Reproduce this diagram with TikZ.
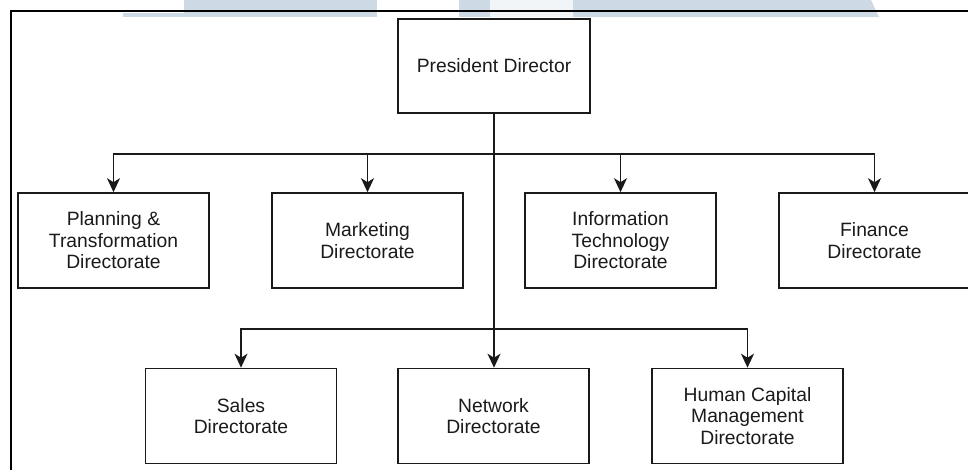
\documentclass[tikz,border=0pt]{standalone}
\usepackage{fontspec}
\setmainfont{Liberation Sans}
\usetikzlibrary{arrows.meta}
\definecolor{wm}{HTML}{CDD9E4}
\definecolor{wmlight}{HTML}{F2F5F8}
\definecolor{ink}{HTML}{1A1A1A}
\begin{document}
\begin{tikzpicture}[x=1pt,y=-1pt,
  box/.style={draw=ink,line width=1.6pt,rectangle,minimum width=191pt,minimum height=95pt,
    align=center,text=ink,font=\fontsize{19.3}{21.5}\selectfont,inner sep=0pt},
  arr/.style={draw=ink,line width=1.6pt,-{Stealth[length=14pt,width=13pt,inset=4pt]}}]
\useasboundingbox (0,0) rectangle (968,469);
\clip (0,0) rectangle (968,469);
% watermark shapes
\fill[wm] (123,13) rectangle (184,17);
\fill[wm] (184,0) rectangle (377,17);
\fill[wmlight] (490,0) rectangle (573,17);
\fill[wm] (459,0) rectangle (490,17);
\fill[wm] (573,0) -- (871,0) -- (879,17) -- (573,17) -- cycle;
% frame
\draw[line width=1.4pt,black] (11,480) -- (11,11) -- (980,11);
% nodes
\node[box,minimum width=192pt,minimum height=94pt] (pres) at (494,66) {President Director};
\node[box] (plan) at (113.5,240.5) {Planning \&\\Transformation\\Directorate};
\node[box] (mark) at (367.5,240.5) {Marketing\\Directorate};
\node[box] (it) at (620.5,240.5) {Information\\Technology\\Directorate};
\node[box] (fin) at (874.5,240.5) {Finance\\Directorate};
\node[box] (sales) at (241,416) {Sales\\Directorate};
\node[box] (net) at (493.5,416) {Network\\Directorate};
\node[box] (hcm) at (747.5,416) {Human Capital\\Management\\Directorate};
% connectors
\draw[arr] (pres.south) -- ++(0,40) -| (plan.north);
\draw[arr] (pres.south) -- ++(0,40) -| (mark.north);
\draw[arr] (pres.south) -- ++(0,40) -| (it.north);
\draw[arr] (pres.south) -- ++(0,40) -| (fin.north);
\draw[arr] (pres.south) -- ++(0,215) -| (sales.north);
\draw[arr] (pres.south) -- ++(0,215) -| (hcm.north);
\draw[arr] (pres.south) -- (pres.south |- net.north);
\end{tikzpicture}
\end{document}
